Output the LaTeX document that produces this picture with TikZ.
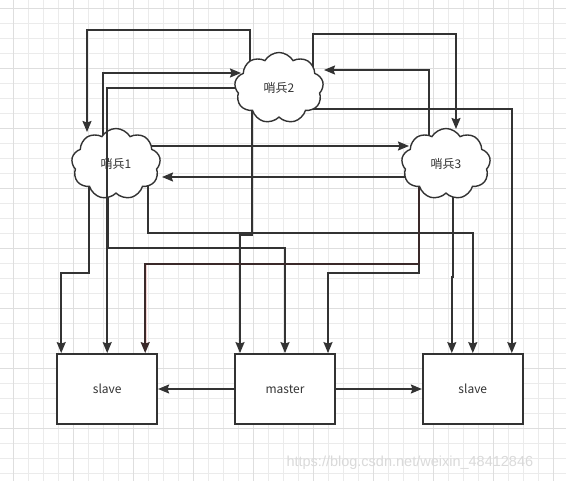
\documentclass[tikz,border=0pt]{standalone}
\usepackage{fontspec}
\setmainfont{Noto Sans CJK SC}
\newfontfamily\wmfont{Liberation Sans}
\usetikzlibrary{positioning,shapes.symbols,calc,arrows.meta}
\pgfdeclarelayer{grid}
\pgfdeclarelayer{wires}
\pgfsetlayers{grid,wires,main}
\definecolor{linec}{HTML}{333333}
\definecolor{gridc}{HTML}{EBEBEB}
\definecolor{gridmaj}{HTML}{DEDEDE}
\definecolor{glow}{HTML}{F3D2D2}
\definecolor{redline}{HTML}{3A2929}
\definecolor{wmark}{HTML}{DADADA}

\begin{document}
\begin{tikzpicture}[x=1pt,y=-1pt,
  every node/.style={font=\fontsize{12}{13}\selectfont, text=linec},
  box/.style={draw=linec, line width=1.8pt, fill=white, minimum width=100pt, minimum height=70pt},
  sentinel/.style={cloud, cloud puffs=9, cloud puff arc=120, aspect=1.3, draw=linec, line width=1.4pt, fill=white, minimum width=89pt, minimum height=71pt, inner sep=0pt},
  wire/.style={draw=linec, line width=1.6pt, -{Stealth[length=11pt,width=9pt,inset=1.5pt]}}]

\useasboundingbox (0,0) rectangle (566,481);

\begin{pgfonlayer}{grid}
\fill[white] (0,0) rectangle (566,481);
\foreach \x in {13,28,...,565} \draw[gridc, line width=0.8pt] (\x,0) -- (\x,481);
\foreach \y in {8,23,...,480} \draw[gridc, line width=0.8pt] (0,\y) -- (566,\y);
\foreach \x in {13,73,...,565} \draw[gridmaj, line width=0.8pt] (\x,0) -- (\x,481);
\foreach \y in {8,68,...,480} \draw[gridmaj, line width=0.8pt] (0,\y) -- (566,\y);
\end{pgfonlayer}

\node[sentinel] (sentinel1) at (116,164) {哨兵1};
\node[sentinel] (sentinel2) at (279,88) {哨兵2};
\node[sentinel] (sentinel3) at (446,164) {哨兵3};
\node[box] (master) at (285,389) {master};
\node[box, left=76pt of master] (slave1) {slave};
\node[box, right=86pt of master] (slave2) {slave};

\begin{pgfonlayer}{wires}
\draw[wire] ($(sentinel2)+(-29,0)$) -- ++(0,-58) -| ($(sentinel1)+(-29,-32)$);
\draw[wire] ($(sentinel1)+(-13,0)$) |- ($(sentinel2)+(-38,-15)$);
\draw[wire] ($(sentinel1)+(0,-18)$) -- ($(sentinel3)+(-37,-18)$);
\draw[wire] ($(sentinel3)+(0,13)$) -- ($(sentinel1)+(46,13)$);
\draw[wire] ($(sentinel2)+(34,0)$) -- ++(0,-54) -| ($(sentinel3)+(10,-35)$);
\draw[wire] ($(sentinel3)+(-17,0)$) |- ($(sentinel2)+(45,-18)$);
\draw[wire] ($(sentinel2)+(0,21)$) -| ($(slave2.north)+(39,0)$);
\draw[wire] ($(sentinel2)+(-27,0)$) -- ++(0,147) -| ($(master.north)+(-45,0)$);
\draw[wire] ($(sentinel1)+(-27,0)$) -- ++(0,109) -| ($(slave1.north)+(-46,0)$);
\draw[wire] ($(sentinel1)+(-8,0)$) -- ++(0,84) -| (master.north);
\draw[wire] ($(sentinel1)+(32,0)$) -- ++(0,69) -| (slave2.north);
\draw[wire] ($(sentinel3)+(-27,0)$) -- ++(0,109) -| ($(master.north)+(43,0)$);
\draw[wire, draw=redline, preaction={draw=glow, line width=2.6pt, -, shorten >=10pt}] ($(sentinel3)+(-27,0)$) -- ++(0,100) -| ($(slave1.north)+(38,0)$);
\draw[wire] ($(sentinel3)+(7,0)$) -- ++(0,113) -| ($(slave2.north)+(-21,0)$);
\end{pgfonlayer}

\draw[wire] (sentinel2.west) -| (slave1.north);
\draw[wire] (master.west) -- (slave1.east);
\draw[wire] (master.east) -- (slave2.west);

\node[font=\wmfont\fontsize{14.5}{15}\selectfont, text=wmark, anchor=west] (watermark) at (283,463) {https://blog.csdn.net/weixin\_48412846};

\end{tikzpicture}
\end{document}
